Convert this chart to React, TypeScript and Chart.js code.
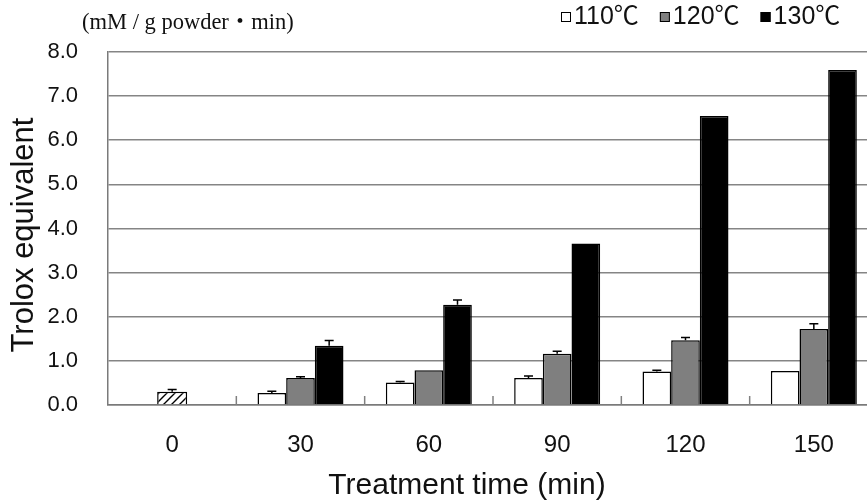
import React, { useEffect, useRef } from 'react';
import { Chart, registerables } from 'chart.js';

Chart.register(...registerables);

const categories = ['0', '30', '60', '90', '120', '150'];
const seriesLabels = ['110℃', '120℃', '130℃'];
const control = [0.3, null, null, null, null, null];
const controlErr = [0.05, 0, 0, 0, 0, 0];
const t110 = [null, 0.27, 0.51, 0.61, 0.76, 0.77];
const err110 = [0, 0.04, 0.02, 0.05, 0.03, 0];
const t120 = [null, 0.61, 0.79, 1.16, 1.47, 1.72];
const err120 = [0, 0.03, 0, 0.06, 0.06, 0.12];
const t130 = [null, 1.34, 2.27, 3.66, 6.55, 7.59];
const err130 = [0, 0.12, 0.11, 0, 0, 0];
const yTicks = [0, 1, 2, 3, 4, 5, 6, 7, 8];
const unitLabel = '(mM / g powder・min)';
const yTitle = 'Trolox equivalent';
const xTitle = 'Treatment time (min)';

const seriesColors = ['#ffffff', '#7f7f7f', '#000000'];

function makeHatch(): CanvasPattern | string {
  const s = 8;
  const c = document.createElement('canvas');
  c.width = s;
  c.height = s;
  const g = c.getContext('2d');
  if (!g) return '#fff';
  g.fillStyle = '#fff';
  g.fillRect(0, 0, s, s);
  g.strokeStyle = '#000';
  g.lineWidth = 1.4;
  g.beginPath();
  g.moveTo(-1, s + 1);
  g.lineTo(s + 1, -1);
  g.moveTo(-1, 1);
  g.lineTo(1, -1);
  g.moveTo(s - 1, s + 1);
  g.lineTo(s + 1, s - 1);
  g.stroke();
  return g.createPattern(c, 'repeat') || '#fff';
}

const GOTHIC = '"Liberation Sans", Arial, sans-serif';
const LEGEND_FONT = '25px "Liberation Sans", "Noto Sans CJK JP", sans-serif';

const decorPlugin = {
  id: 'decor',
  afterDatasetsDraw(chart: any) {
    const ctx = chart.ctx as CanvasRenderingContext2D;
    const x = chart.scales.x;
    const y = chart.scales.y;
    const area = chart.chartArea;
    ctx.save();
    // inner tick marks at category boundaries
    ctx.strokeStyle = '#808080';
    ctx.lineWidth = 1.5;
    for (let i = 0; i < categories.length - 1; i++) {
      const px = (x.getPixelForTick(i) + x.getPixelForTick(i + 1)) / 2;
      ctx.beginPath();
      ctx.moveTo(px, area.bottom);
      ctx.lineTo(px, area.bottom - 9);
      ctx.stroke();
    }
    // error bars (upper half)
    ctx.strokeStyle = '#000';
    ctx.lineWidth = 1.5;
    chart.data.datasets.forEach((ds: any, di: number) => {
      const meta = chart.getDatasetMeta(di);
      const errs: number[] = ds.errors || [];
      meta.data.forEach((el: any, i: number) => {
        const v = ds.data[i];
        const e = errs[i];
        if (v == null || !e) return;
        const top = y.getPixelForValue(v + e);
        ctx.beginPath();
        ctx.moveTo(el.x, el.y);
        ctx.lineTo(el.x, top);
        ctx.moveTo(el.x - 4.5, top);
        ctx.lineTo(el.x + 4.5, top);
        ctx.stroke();
      });
    });
    ctx.restore();
  },
  afterDraw(chart: any) {
    const ctx = chart.ctx as CanvasRenderingContext2D;
    ctx.save();
    ctx.fillStyle = '#111';
    ctx.textBaseline = 'middle';
    ctx.textAlign = 'left';
    // unit label
    ctx.font = '22.5px "Liberation Serif", "Noto Sans CJK JP", serif';
    ctx.fillText(unitLabel, 82, 23);
    // axis titles
    ctx.textAlign = 'center';
    ctx.font = '30px ' + GOTHIC;
    ctx.fillText(xTitle, 467, 486);
    ctx.save();
    ctx.translate(24, 235);
    ctx.rotate(-Math.PI / 2);
    ctx.font = '31px ' + GOTHIC;
    ctx.fillText(yTitle, 0, 0);
    ctx.restore();
    // legend
    ctx.textAlign = 'left';
    ctx.font = LEGEND_FONT;
    let lx = 561;
    const ly = 17;
    seriesLabels.forEach((lab, i) => {
      ctx.fillStyle = seriesColors[i];
      ctx.fillRect(lx, ly - 5, 10, 10);
      ctx.strokeStyle = '#000';
      ctx.lineWidth = 1;
      ctx.strokeRect(lx + 0.5, ly - 4.5, 9, 9);
      ctx.fillStyle = '#111';
      ctx.fillText(lab, lx + 13, ly);
      lx += 13 + ctx.measureText(lab).width + 21;
    });
    ctx.restore();
  },
};

export default function App() {
  const ref = useRef<HTMLCanvasElement | null>(null);

  useEffect(() => {
    const canvas = ref.current;
    if (!canvas) return;
    const hatch = makeHatch();
    const barCommon = {
      borderColor: '#000',
      borderWidth: 1.5,
      categoryPercentage: 0.67,
      barPercentage: 1,
    };
    const chart = new Chart(canvas, {
      type: 'bar',
      data: {
        labels: categories,
        datasets: [
          {
            label: '0',
            data: control,
            errors: controlErr,
            backgroundColor: hatch,
            borderColor: '#000',
            borderWidth: 1.5,
            grouped: false,
            categoryPercentage: 1,
            barPercentage: 0.234,
          } as any,
          { label: seriesLabels[0], data: t110, errors: err110, backgroundColor: seriesColors[0], ...barCommon } as any,
          { label: seriesLabels[1], data: t120, errors: err120, backgroundColor: seriesColors[1], ...barCommon } as any,
          { label: seriesLabels[2], data: t130, errors: err130, backgroundColor: seriesColors[2], ...barCommon } as any,
        ],
      },
      options: {
        responsive: false,
        animation: false,
        devicePixelRatio: 1,
        layout: { padding: { left: 0, top: 52, right: 2, bottom: 0 } },
        plugins: {
          legend: { display: false },
          tooltip: { enabled: false },
        },
        scales: {
          x: {
            grid: { display: false },
            border: { display: true, color: '#7a7a7a', width: 1.5 },
            ticks: {
              color: '#111',
              font: { family: GOTHIC, size: 24 },
              padding: 18,
            },
            afterFit(scale: any) {
              scale.height = 96;
            },
          },
          y: {
            min: 0,
            max: 8,
            afterBuildTicks(scale: any) {
              scale.ticks = yTicks.map((v) => ({ value: v }));
            },
            grid: { color: '#858585', lineWidth: 1.6, drawTicks: false },
            border: { display: true, color: '#7a7a7a', width: 1.5 },
            ticks: {
              color: '#111',
              font: { family: GOTHIC, size: 22 },
              padding: 30,
              callback: (v: any) => Number(v).toFixed(1),
            },
            afterFit(scale: any) {
              scale.width = 108;
            },
          },
        },
      } as any,
      plugins: [decorPlugin],
    });
    return () => chart.destroy();
  }, []);

  return (
    <div
      style={{
        position: 'fixed',
        left: 0,
        top: 0,
        width: 867,
        height: 501,
        overflow: 'hidden',
        background: '#fff',
      }}
    >
      <canvas ref={ref} width={880} height={501} style={{ display: 'block', width: 880, height: 501 }} />
    </div>
  );
}
